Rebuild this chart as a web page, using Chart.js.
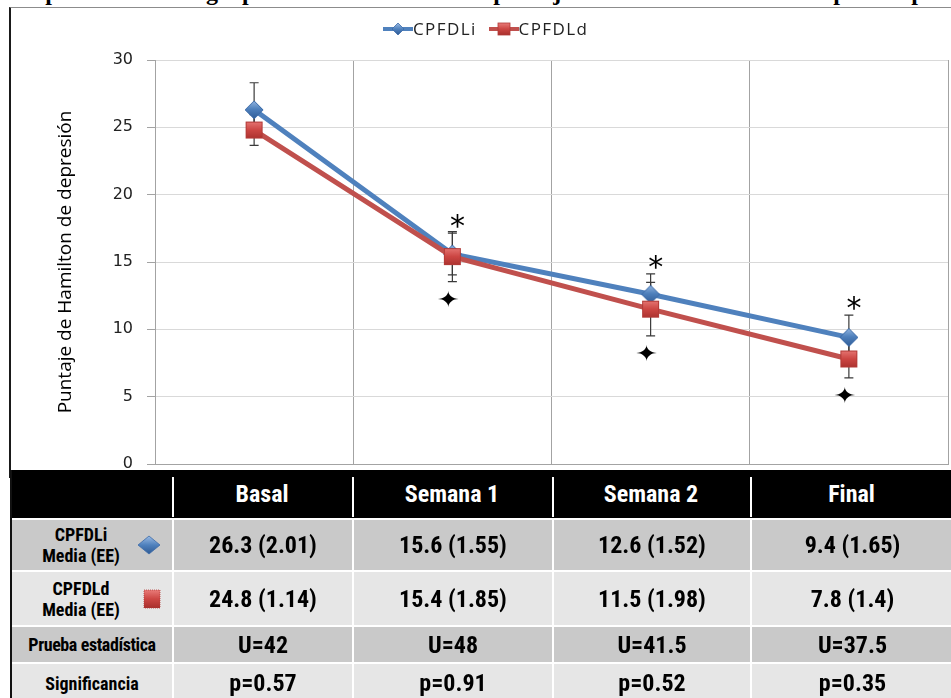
<!DOCTYPE html>
<html>
<head>
<meta charset="utf-8">
<script src="https://cdn.jsdelivr.net/npm/chart.js@4.4.0/dist/chart.umd.min.js"></script>
<style>
  body { margin:0; width:951px; height:698px; overflow:hidden; background:#fff; position:relative; }
  #titulo { position:absolute; left:-4px; top:-20px; white-space:nowrap; font:bold 24px/24px "Liberation Serif", serif; color:#000; }
  #chart-one { position:absolute; left:0; top:0; }
  #marco { position:absolute; left:9px; top:7px; width:960px; height:470px; border-left:2px solid #1a1a1a; border-top:1px solid #8c8c8c; pointer-events:none; }
  #leyenda { position:absolute; left:383px; top:17px; white-space:nowrap; font:17px "Open Sans", sans-serif; color:#222; letter-spacing:1.4px; }
  #leyenda span { display:inline-flex; align-items:center; }
  #leyenda span + span { margin-left:12px; }
  #tabla { position:absolute; left:10px; top:470px; display:grid; border-left:2px solid #111;
           grid-template-columns:160px 180px 200px 198px 203px; grid-template-rows:48px 52px 55px 37px 40px;
           font-family:"Liberation Sans Narrow", "Arial Narrow", "Roboto Condensed", sans-serif; font-weight:bold; }
  #tabla div { box-sizing:border-box; display:flex; align-items:center; justify-content:center; text-align:center; }
  #tabla .cab { background:#000; color:#fff; font-size:24px; position:relative; }
  #tabla .cab.sep::before { content:''; position:absolute; left:0; top:7px; bottom:1px; width:2px; background:#fff; }
  #tabla .val { font-size:24px; color:#000; border-top:2px solid #fff; border-left:2px solid #fff; }
  #tabla .eti { font-size:18px; color:#000; border-top:2px solid #fff; line-height:21px; position:relative; }
  #tabla .eti.ico { justify-content:flex-start; }
  #tabla .eti.ico span { width:138px; text-align:center; }
  #tabla .eti svg { position:absolute; top:50%; transform:translateY(-50%); }
  #tabla .osc { background:#c9c9c9; }
  #tabla .cla { background:#e6e6e6; }
</style>
</head>
<body>
<div id="titulo">Comparación de los grupos de tratamiento en el puntaje de la escala de Hamilton para depresión</div>
<canvas id="chart-one" width="951" height="490"></canvas>
<div id="marco"></div>
<div id="leyenda"></div>
<div id="tabla"></div>
<script>
const categorias = ['Basal', 'Semana 1', 'Semana 2', 'Final'];
const series = ['CPFDLi', 'CPFDLd'];
const mediaIzq = [26.3, 15.6, 12.6, 9.4];
const eeIzq = [2.01, 1.55, 1.52, 1.65];
const mediaDer = [24.8, 15.4, 11.5, 7.8];
const eeDer = [1.14, 1.85, 1.98, 1.4];
const pruebaU = ['U=42', 'U=48', 'U=41.5', 'U=37.5'];
const significancia = ['p=0.57', 'p=0.91', 'p=0.52', 'p=0.35'];
// asterisco sobre CPFDLi, estrella bajo CPFDLd
const conAsterisco = [false, true, true, true];
const conEstrella = [false, true, true, true];
const ticksY = [0, 5, 10, 15, 20, 25, 30];

const AZUL = '#4F81BD', ROJO = '#C0504D';

function rombo(r) {
  const c = document.createElement('canvas');
  c.width = c.height = 2 * r + 2;
  const g = c.getContext('2d'), m = r + 1;
  const gr = g.createLinearGradient(0, 0, 0, c.height);
  gr.addColorStop(0, '#9BBBE4'); gr.addColorStop(0.45, '#4F81BD'); gr.addColorStop(1, '#2E5A94');
  g.beginPath(); g.moveTo(m, 1); g.lineTo(2 * r + 1, m); g.lineTo(m, 2 * r + 1); g.lineTo(1, m); g.closePath();
  g.fillStyle = gr; g.fill();
  g.strokeStyle = '#3C6BA8'; g.lineWidth = 1; g.stroke();
  return c;
}
function cuadro(l) {
  const c = document.createElement('canvas');
  c.width = c.height = l + 2;
  const g = c.getContext('2d');
  const gr = g.createLinearGradient(0, 0, 0, c.height);
  gr.addColorStop(0, '#E87B78'); gr.addColorStop(0.5, '#CC4643'); gr.addColorStop(1, '#A8302D');
  g.fillStyle = gr; g.fillRect(1, 1, l, l);
  g.strokeStyle = '#B23A37'; g.lineWidth = 1; g.strokeRect(1.5, 1.5, l - 1, l - 1);
  return c;
}

// barras de error (ambos sentidos), detrás de las líneas
const barrasError = {
  id: 'barrasError',
  beforeDatasetsDraw(chart) {
    const {ctx, scales: {x, y}} = chart;
    ctx.save();
    ctx.strokeStyle = '#3a3a3a';
    ctx.lineWidth = 1.2;
    [[mediaIzq, eeIzq], [mediaDer, eeDer]].forEach(([med, ee]) => {
      med.forEach((v, i) => {
        const px = x.getPixelForValue(i);
        const a = y.getPixelForValue(v + ee[i]), b = y.getPixelForValue(v - ee[i]);
        ctx.beginPath();
        ctx.moveTo(px, a); ctx.lineTo(px, b);
        ctx.moveTo(px - 4.5, a); ctx.lineTo(px + 4.5, a);
        ctx.moveTo(px - 4.5, b); ctx.lineTo(px + 4.5, b);
        ctx.stroke();
      });
    });
    ctx.restore();
  }
};

// marcas de significancia
const marcas = {
  id: 'marcas',
  afterDatasetsDraw(chart) {
    const {ctx, scales: {x, y}} = chart;
    ctx.save();
    ctx.fillStyle = '#000';
    ctx.textAlign = 'center';
    ctx.textBaseline = 'alphabetic';
    categorias.forEach((c, i) => {
      const px = x.getPixelForValue(i);
      if (conAsterisco[i]) {
        ctx.font = '30px "DejaVu Sans"';
        const m = ctx.measureText('*');
        const yc = y.getPixelForValue(mediaIzq[i] + eeIzq[i]) - 12;
        ctx.fillText('*', px + 5, yc + (m.actualBoundingBoxAscent - m.actualBoundingBoxDescent) / 2);
      }
      if (conEstrella[i]) {
        ctx.font = '22px "DejaVu Sans"';
        const m = ctx.measureText('✦');
        const yc = y.getPixelForValue(mediaDer[i] - eeDer[i]) + 17;
        ctx.save();
        ctx.translate(px - 4, yc);
        ctx.scale(1.25, 1);
        ctx.fillText('✦', 0, (m.actualBoundingBoxAscent - m.actualBoundingBoxDescent) / 2);
        ctx.restore();
      }
    });
    ctx.restore();
  }
};

const ctx = document.getElementById('chart-one').getContext('2d');
new Chart(ctx, {
  type: 'line',
  data: {
    labels: categorias,
    datasets: [
      { label: series[0], data: mediaIzq, borderColor: AZUL, borderWidth: 5, tension: 0,
        pointStyle: rombo(9), pointRadius: 9, order: 1 },
      { label: series[1], data: mediaDer, borderColor: ROJO, borderWidth: 5, tension: 0,
        pointStyle: cuadro(17), pointRadius: 9, order: 0 }
    ]
  },
  options: {
    responsive: false,
    animation: false,
    layout: { autoPadding: false, padding: { top: 60, left: 0, right: 3, bottom: 26 } },
    plugins: { legend: { display: false }, tooltip: { enabled: false } },
    scales: {
      x: {
        offset: true,
        grid: { offset: true, color: '#a3a3a3', drawTicks: false },
        border: { color: '#a3a3a3' },
        ticks: { display: false }
      },
      y: {
        min: 0, max: 30,
        afterBuildTicks: s => { s.ticks = ticksY.map(v => ({ value: v })); },
        afterFit: s => { s.width = 155; },
        grid: { color: '#d9d9d9', tickColor: '#a3a3a3', tickLength: 8 },
        border: { color: '#a3a3a3' },
        ticks: { padding: 14, color: '#222', font: { family: 'DejaVu Sans', size: 16 } },
        title: { display: true, text: 'Puntaje de Hamilton de depresión', color: '#000',
                 font: { family: 'Open Sans', size: 19 }, padding: { top: 54, bottom: 0 } }
      }
    }
  },
  plugins: [barrasError, marcas]
});

// leyenda al estilo de la figura original
function iconoSvg(color, forma) {
  const marca = forma === 'rombo'
    ? `<polygon points="15,1 21,7 15,13 9,7" fill="url(#g${forma})" stroke="#3C6BA8" stroke-width="0.8"/>`
    : `<rect x="9" y="1" width="12" height="12" fill="url(#g${forma})" stroke="#B23A37" stroke-width="0.8"/>`;
  const grad = forma === 'rombo'
    ? '<stop offset="0" stop-color="#9BBBE4"/><stop offset="0.5" stop-color="#4F81BD"/><stop offset="1" stop-color="#2E5A94"/>'
    : '<stop offset="0" stop-color="#E87B78"/><stop offset="0.5" stop-color="#CC4643"/><stop offset="1" stop-color="#A8302D"/>';
  return `<svg width="30" height="14" viewBox="0 0 30 14"><defs><linearGradient id="g${forma}" x1="0" y1="0" x2="0" y2="1">${grad}</linearGradient></defs>` +
    `<line x1="0" y1="7" x2="30" y2="7" stroke="${color}" stroke-width="4"/>${marca}</svg>`;
}
document.getElementById('leyenda').innerHTML =
  `<span>${iconoSvg(AZUL, 'rombo')}${series[0]}</span><span>${iconoSvg(ROJO, 'cuadro')}${series[1]}</span>`;

// tabla de resultados
function iconoTabla(forma) {
  if (forma === 'rombo') {
    return '<svg width="24" height="20" viewBox="0 0 24 20" style="left:125px"><defs><linearGradient id="tr" x1="0" y1="0" x2="0" y2="1"><stop offset="0" stop-color="#9BBBE4"/><stop offset="0.5" stop-color="#4F81BD"/><stop offset="1" stop-color="#2E5A94"/></linearGradient></defs><polygon points="12,1 23,10 12,19 1,10" fill="url(#tr)" stroke="#3C6BA8" stroke-width="0.8"/></svg>';
  }
  return '<svg width="18" height="20" viewBox="0 0 18 20" style="left:131px"><defs><linearGradient id="tc" x1="0" y1="0" x2="0" y2="1"><stop offset="0" stop-color="#E87B78"/><stop offset="0.5" stop-color="#CC4643"/><stop offset="1" stop-color="#A8302D"/></linearGradient></defs><rect x="1" y="1" width="16" height="18" fill="url(#tc)" stroke="#B23A37" stroke-width="0.8" stroke-dasharray="1 1"/></svg>';
}
let html = '<div class="cab"></div>';
categorias.forEach(c => { html += `<div class="cab sep">${c}</div>`; });
html += `<div class="eti ico osc"><span>${series[0]}<br>Media (EE)</span>${iconoTabla('rombo')}</div>`;
mediaIzq.forEach((m, i) => { html += `<div class="val osc">${m.toFixed(1)} (${eeIzq[i]})</div>`; });
html += `<div class="eti ico cla"><span>${series[1]}<br>Media (EE)</span>${iconoTabla('cuadro')}</div>`;
mediaDer.forEach((m, i) => { html += `<div class="val cla">${m.toFixed(1)} (${eeDer[i]})</div>`; });
html += '<div class="eti osc" style="letter-spacing:-0.4px">Prueba estadística</div>';
pruebaU.forEach(u => { html += `<div class="val osc">${u}</div>`; });
html += '<div class="eti cla">Significancia</div>';
significancia.forEach(p => { html += `<div class="val cla">${p}</div>`; });
document.getElementById('tabla').innerHTML = html;
</script>
</body>
</html>
